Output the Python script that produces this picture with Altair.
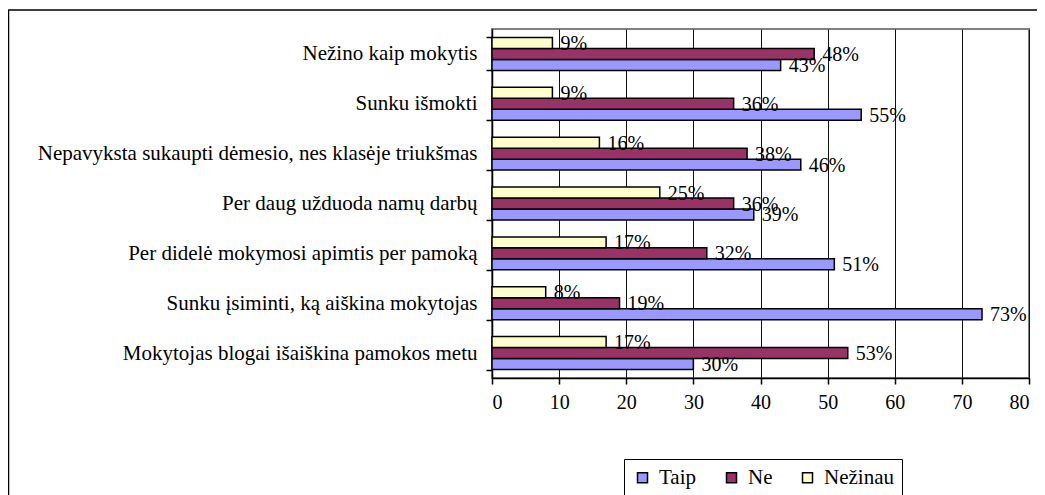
import altair as alt
import pandas as pd

categories = [
    "Nežino kaip mokytis",
    "Sunku išmokti",
    "Nepavyksta sukaupti dėmesio, nes klasėje triukšmas",
    "Per daug užduoda namų darbų",
    "Per didelė mokymosi apimtis per pamoką",
    "Sunku įsiminti, ką aiškina mokytojas",
    "Mokytojas blogai išaiškina pamokos metu",
]
series = ["Taip", "Ne", "Nežinau"]
taip = [43, 55, 46, 39, 51, 73, 30]
ne = [48, 36, 38, 36, 32, 19, 53]
nezinau = [9, 9, 16, 25, 17, 8, 17]
colors = ["#9999FF", "#993366", "#FFFFCC"]
x_ticks = [0, 10, 20, 30, 40, 50, 60, 70, 80]

rows = []
for i, c in enumerate(categories):
    for s, vals in zip(series, [taip, ne, nezinau]):
        rows.append({"cat": c, "series": s, "value": vals[i], "label": f"{vals[i]}%"})
df = pd.DataFrame(rows)

FONT = "Liberation Serif, Times New Roman, serif"
W, H = 537, 349

y_enc = alt.Y(
    "cat:N", sort=categories, title=None,
    scale=alt.Scale(paddingInner=0.34, paddingOuter=0.17),
    axis=alt.Axis(tickBand="extent", labelFontSize=21, labelPadding=9, tickSize=6,
                  labelLimit=600, grid=False),
)
yoff_enc = alt.YOffset("series:N", sort=["Nežinau", "Ne", "Taip"],
                       scale=alt.Scale(paddingInner=0, paddingOuter=0))
x_enc = alt.X(
    "value:Q", title=None, scale=alt.Scale(domain=[0, 80]),
    axis=alt.Axis(values=x_ticks, grid=True, gridColor="#111111", gridWidth=1,
                  tickSize=6, labelPadding=8, labelFontSize=20),
)

bars = alt.Chart(df).mark_bar(stroke="black", strokeWidth=1.5).encode(
    y=y_enc, yOffset=yoff_enc, x=x_enc,
    color=alt.Color(
        "series:N", title=None,
        scale=alt.Scale(domain=series, range=colors),
        legend=alt.Legend(
            orient="none", legendX=132, legendY=430, direction="horizontal", columns=3,
            symbolType="square", symbolSize=100, symbolStrokeColor="black",
            symbolStrokeWidth=1.5, labelFontSize=21, labelFont=FONT, labelColor="black",
            labelOffset=6, columnPadding=24, padding=8, strokeColor="black",
            fillColor="white",
        ),
    ),
)

labels = alt.Chart(df).mark_text(
    align="left", baseline="middle", dx=8, dy=1, fontSize=20, font=FONT, color="black"
).encode(y=y_enc, yOffset=yoff_enc, x=x_enc, text="label:N")

frame = alt.Chart(pd.DataFrame({"a": [0]})).mark_rect(
    fillOpacity=0, stroke="black", strokeWidth=1.5
).encode(
    x=alt.value(-483.5), x2=alt.value(600), y=alt.value(-19), y2=alt.value(520)
)

chart = alt.layer(frame, bars, labels).properties(
    width=W, height=H,
    padding={"left": 484, "top": 21, "right": 8, "bottom": 117},
    autosize=alt.AutoSizeParams(type="none"),
    background="white",
).configure_view(
    stroke="#808080", strokeWidth=2
).configure_axis(
    labelFont=FONT, labelColor="black", domainColor="black", tickColor="black",
    domainWidth=1.5, tickWidth=1.5,
).configure_legend(
    labelFont=FONT
)

chart.save("out.html", embed_options={"renderer": "svg", "actions": False})
